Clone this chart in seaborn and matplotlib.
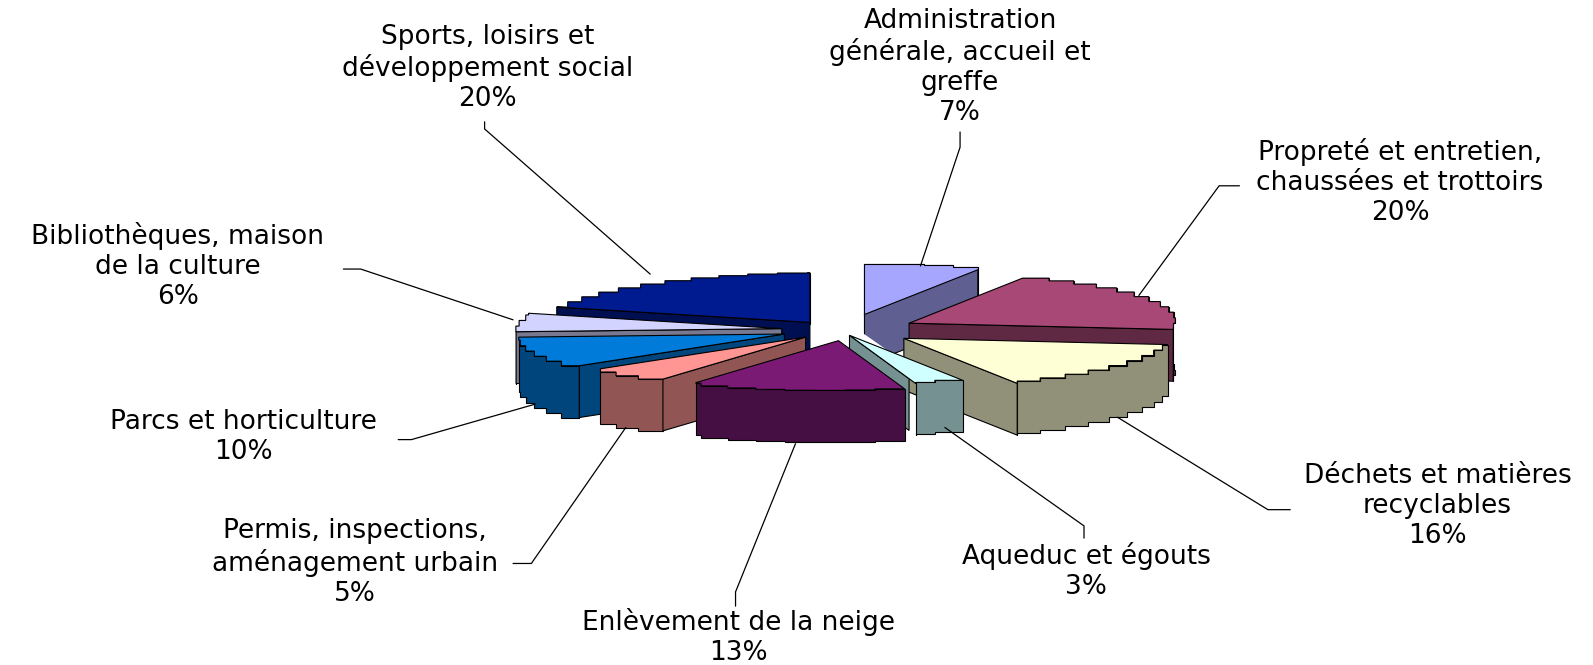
# Camembert 3D eclate : repartition du budget par service
import numpy as np
import matplotlib
matplotlib.use("Agg")
import matplotlib.pyplot as plt
import seaborn as sns

# ----------------------------
# Donnees (sens horaire depuis midi)
categories = [
    "Administration\ngénérale, accueil et\ngreffe",
    "Propreté et entretien,\nchaussées et trottoirs",
    "Déchets et matières\nrecyclables",
    "Aqueduc et égouts",
    "Enlèvement de la neige",
    "Permis, inspections,\naménagement urbain",
    "Parcs et horticulture",
    "Bibliothèques, maison\nde la culture",
    "Sports, loisirs et\ndéveloppement social",
]
values = [7, 20, 16, 3, 13, 5, 10, 6, 20]

# ----------------------------
# Style et mise en page (repere en pixels de l'image)
top_colors = ["#A6A6FF", "#A84876", "#FFFFD5", "#CFFFFF", "#7B1A75",
              "#FF9693", "#007BD9", "#D3D3FF", "#001A90"]
explode = [105, 74, 75, 30, 30, 50, 58, 57, 49]
nudge_x = [2, 4, 3, 0, 4, 0, 0, 0, 0]
nudge_y = [3, 0, 0, 0, 5, 0, 0, 0, 0]
draw_order = [8, 0, 7, 6, 1, 2, 5, 3, 4]
label_x = [945, 1378, 1415, 1069, 727, 349, 240, 175, 480]
label_y = [66, 179, 498, 562, 627, 554, 430, 262, 67]
leaders = [
    ([945, 945, 906], [130, 145, 262]),
    ([1220, 1200, 1121], [183, 183, 291]),
    ([1270, 1248, 1100], [502, 502, 411]),
    ([1067, 1067, 930], [530, 518, 421]),
    ([724, 724, 783], [597, 583, 437]),
    ([505, 523, 616], [555, 555, 421]),
    ([392, 405, 527], [433, 433, 398]),
    ([338, 355, 505], [265, 265, 315]),
    ([477, 477, 640], [120, 127, 270]),
]
cx, cy = 826, 325
rx, ry = 262, 49
depth = 51
step = 6.5  # marches de l'arc en degres

sns.set_theme(style="white")
palette = sns.color_palette(top_colors)
sides = [tuple(0.57 * c for c in col) for col in palette]

fig = plt.figure(figsize=(15.93, 6.65), dpi=100)
ax = fig.add_axes([0, 0, 1, 1])
ax.set_xlim(0, 1568)
ax.set_ylim(655, 0)
ax.axis("off")

# bornes angulaires calculees depuis les valeurs
bounds = np.cumsum([0] + values) / np.sum(values) * 360


def stepped_arc(a0, a1):
    ang = np.arange(a0, a1, step)
    ang = np.append(ang, a1)
    x = rx * np.sin(np.radians(ang))
    y = -ry * np.cos(np.radians(ang))
    px, py = [x[0]], [y[0]]
    for i in range(1, len(ang)):
        px += [x[i], x[i]]
        py += [y[i - 1], y[i]]
    return np.array(px), np.array(py)


def face(xs, ys, color, z):
    ax.fill(xs, ys, facecolor=color, edgecolor="black", lw=0.8,
            joinstyle="miter", zorder=z)


z = 2
for i in draw_order:
    a0, a1 = bounds[i], bounds[i + 1]
    mid = np.radians((a0 + a1) / 2)
    ox = cx + explode[i] * np.sin(mid) + nudge_x[i]
    oy = cy - explode[i] * np.cos(mid) * ry / rx + nudge_y[i]
    arc_x, arc_y = stepped_arc(a0, a1)
    arc_x, arc_y = arc_x + ox, arc_y + oy

    # paroi exterieure d'abord, faces radiales visibles, puis dessus
    face(np.r_[arc_x, arc_x[::-1]], np.r_[arc_y, arc_y[::-1] + depth], sides[i], z)
    z += 1
    walls = []
    if np.sin(np.radians(a0)) < -1e-6:
        walls.append((arc_x[0], arc_y[0], 1.0))
    if np.sin(np.radians(a1)) > 1e-6:
        shrink = 0.9 if categories[i].startswith("Aqueduc") else 1.0
        walls.append((arc_x[-1], arc_y[-1], shrink))
    for ex, ey, k in walls:
        ex2, ey2 = ox + (ex - ox) * k, oy + (ey - oy) * k
        face([ox, ex2, ex2, ox], [oy, ey2, ey2 + depth, oy + depth], sides[i], z)
        z += 1
    face(np.r_[ox, arc_x], np.r_[oy, arc_y], palette[i], z)
    z += 1

    # le vide blanc sous la paroi de l'administration
    if i == 0:
        ax.fill([ox - 2, ox + 38, ox + 38, ox - 2],
                [oy + 19, oy + 47, oy + 60, oy + 60],
                facecolor="white", edgecolor="none", zorder=z)
        z += 1

# ----------------------------
# Etiquettes et lignes de rappel
for name, val, lx, ly, (lxs, lys) in zip(categories, values, label_x, label_y, leaders):
    ax.text(lx, ly, f"{name}\n{val}%", ha="center", va="center", ma="center",
            fontsize=19, family="DejaVu Sans", color="black", linespacing=1.2,
            zorder=100)
    ax.plot(lxs, lys, color="black", lw=0.9, zorder=99)

fig.savefig("out.png", dpi=100, facecolor="white")
